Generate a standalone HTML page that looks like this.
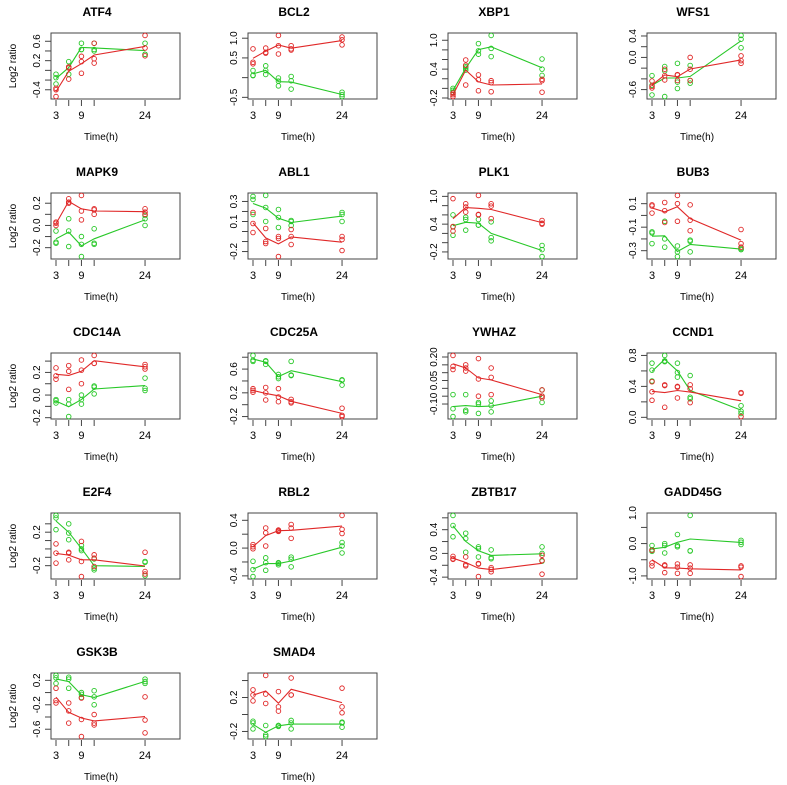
<!DOCTYPE html>
<html><head><meta charset="utf-8"><style>
html,body{margin:0;padding:0;background:#fff;}
svg{display:block;font-family:"Liberation Sans",Arial,sans-serif;}
</style></head><body>
<svg id="chart" width="787" height="785" viewBox="0 0 787 785"></svg>
<script>
const times = [3, 6, 9, 12, 24];
const genes = ["ATF4","BCL2","XBP1","WFS1","MAPK9","ABL1","PLK1","BUB3","CDC14A","CDC25A","YWHAZ","CCND1","E2F4","RBL2","ZBTB17","GADD45G","GSK3B","SMAD4"];
const redSeries = [
 [[-0.37,-0.40,-0.54],[0.07,-0.18,0.05],[0.29,0.18,-0.06],[0.56,0.24,0.15],[0.72,0.46,0.30]],
 [[0.73,0.39,0.35],[0.75,0.64,0.62],[1.07,0.81,0.60],[0.81,0.73,0.70],[1.03,0.96,0.83]],
 [[-0.10,-0.13,-0.17],[0.59,0.48,0.07],[0.28,0.18,-0.05],[0.16,0.12,-0.07],[0.19,0.16,-0.08]],
 [[-0.44,-0.54,-0.57],[-0.22,-0.34,-0.42],[-0.32,-0.33,-0.43],[0.00,-0.22,-0.43],[0.03,-0.06,-0.11]],
 [[0.03,0.02,0.00],[0.24,0.21,0.20],[0.27,0.13,0.05],[0.15,0.14,0.10],[0.15,0.12,0.10]],
 [[0.19,0.08,-0.01],[0.03,-0.10,-0.12],[-0.05,-0.07,-0.25],[0.02,-0.05,-0.13],[-0.05,-0.08,-0.19]],
 [[0.95,0.35,0.25],[0.84,0.77,0.66],[1.02,0.61,0.60],[0.84,0.79,0.52],[0.48,0.42,0.40]],
 [[0.09,0.08,0.02],[0.11,0.04,-0.06],[0.17,0.10,-0.05],[0.09,-0.04,-0.13],[-0.12,-0.24,-0.27]],
 [[0.24,0.17,0.14],[0.26,0.21,0.05],[0.31,0.22,0.10],[0.35,0.28,0.28],[0.27,0.25,0.23]],
 [[0.27,0.24,0.21],[0.29,0.20,0.08],[0.27,0.13,0.05],[0.09,0.05,0.03],[-0.06,-0.18,-0.20]],
 [[0.21,0.14,0.12],[0.15,0.13,0.11],[0.19,0.06,-0.05],[0.13,0.07,-0.04],[-0.01,-0.05,-0.06]],
 [[0.46,0.33,0.22],[0.42,0.41,0.13],[0.40,0.39,0.25],[0.42,0.37,0.19],[0.32,0.31,0.01]],
 [[0.06,-0.05,-0.17],[-0.04,-0.05,-0.13],[0.09,-0.15,-0.33],[-0.07,-0.11,-0.21],[-0.04,-0.27,-0.30]],
 [[0.05,0.02,-0.01],[0.29,0.22,0.03],[0.26,0.25,0.24],[0.34,0.29,0.14],[0.47,0.27,0.21]],
 [[-0.05,-0.09,-0.10],[-0.06,-0.19,-0.21],[-0.17,-0.18,-0.39],[-0.24,-0.27,-0.31],[-0.03,-0.12,-0.35]],
 [[-0.21,-0.60,-0.69],[-0.66,-0.69,-0.90],[-0.63,-0.73,-0.92],[-0.66,-0.76,-0.92],[-0.69,-0.73,-1.02]],
 [[0.07,-0.13,-0.17],[-0.17,-0.30,-0.50],[-0.09,-0.44,-0.72],[-0.36,-0.50,-0.53],[-0.07,-0.45,-0.66]],
 [[0.29,0.23,0.16],[0.46,0.24,0.13],[0.27,0.09,0.04],[0.43,0.23,0.23],[0.31,0.09,0.02]]
];
const greenSeries = [
 [[-0.08,-0.15,-0.28],[0.18,0.07,-0.08],[0.56,0.43,0.43],[0.56,0.43,0.40],[0.56,0.33,0.33]],
 [[0.18,0.05,0.06],[0.30,0.18,0.08],[-0.01,-0.09,-0.21],[0.03,-0.08,-0.29],[-0.37,-0.43,-0.48]],
 [[0.00,-0.04,-0.08],[0.45,0.42,0.38],[0.93,0.78,0.71],[1.10,0.83,0.66],[0.61,0.40,0.27]],
 [[-0.34,-0.52,-0.70],[-0.17,-0.25,-0.73],[-0.11,-0.46,-0.58],[-0.15,-0.43,-0.48],[0.41,0.34,0.18]],
 [[-0.05,-0.15,-0.16],[0.06,-0.05,-0.19],[-0.10,-0.17,-0.28],[-0.03,-0.16,-0.17],[0.09,0.06,0.00]],
 [[0.35,0.32,0.17],[0.36,0.24,0.10],[0.22,0.14,0.04],[0.11,0.10,0.06],[0.19,0.17,0.10]],
 [[0.60,0.34,0.16],[0.55,0.50,0.27],[0.50,0.38,0.38],[0.45,0.11,0.04],[-0.06,-0.15,-0.30]],
 [[-0.14,-0.15,-0.24],[-0.05,-0.20,-0.27],[-0.26,-0.31,-0.35],[-0.21,-0.22,-0.31],[-0.28,-0.29,-0.29]],
 [[-0.04,-0.05,-0.07],[-0.04,-0.08,-0.19],[0.00,-0.04,-0.08],[0.08,0.07,0.01],[0.15,0.06,0.04]],
 [[0.83,0.75,0.73],[0.74,0.73,0.68],[0.51,0.47,0.44],[0.73,0.50,0.49],[0.42,0.41,0.33]],
 [[-0.04,-0.13,-0.18],[-0.04,-0.14,-0.15],[-0.09,-0.10,-0.16],[-0.08,-0.11,-0.15],[-0.01,-0.05,-0.09]],
 [[0.70,0.61,0.47],[0.80,0.73,0.72],[0.70,0.58,0.52],[0.54,0.26,0.24],[0.15,0.08,0.05]],
 [[0.40,0.37,0.23],[0.30,0.19,0.11],[0.04,0.00,-0.02],[-0.12,-0.23,-0.25],[-0.15,-0.16,-0.32]],
 [[-0.19,-0.31,-0.41],[-0.14,-0.21,-0.32],[-0.21,-0.22,-0.24],[-0.13,-0.16,-0.27],[0.08,0.03,-0.07]],
 [[0.64,0.47,0.28],[0.34,0.25,0.02],[0.11,0.08,-0.06],[0.06,-0.07,-0.09],[0.11,0.00,-0.13]],
 [[-0.06,-0.19,-0.24],[0.00,-0.06,-0.29],[0.28,-0.06,-0.10],[0.87,-0.22,-0.23],[0.10,0.04,-0.03]],
 [[0.28,0.24,0.15],[0.25,0.22,0.07],[0.00,-0.03,-0.08],[0.03,-0.07,-0.20],[0.22,0.18,0.15]],
 [[-0.08,-0.10,-0.17],[-0.13,-0.24,-0.26],[-0.13,-0.13,-0.14],[-0.07,-0.10,-0.17],[-0.09,-0.10,-0.15]]
];
const yTicks = [
 [-0.4,-0.2,0,0.2,0.4,0.6],[-0.5,0,0.5,1.0],[-0.2,0,0.2,0.4,0.6,0.8,1.0],[-0.6,-0.4,-0.2,0,0.2,0.4],
 [-0.2,-0.1,0,0.1,0.2],[-0.2,-0.1,0,0.1,0.2,0.3],[-0.2,0,0.2,0.4,0.6,0.8,1.0],[-0.3,-0.2,-0.1,0,0.1],
 [-0.2,-0.1,0,0.1,0.2,0.3],[-0.2,0,0.2,0.4,0.6,0.8],[-0.10,-0.05,0,0.05,0.10,0.15,0.20],[0,0.2,0.4,0.6,0.8],
 [-0.2,-0.1,0,0.1,0.2,0.3],[-0.4,-0.2,0,0.2,0.4],[-0.4,-0.2,0,0.2,0.4,0.6],[-1,-0.5,0,0.5,1],
 [-0.6,-0.4,-0.2,0,0.2],[-0.2,0,0.2,0.4]
];
const yLabels = [
 ["-0.4","0.2","0.6"],["-0.5","0.5","1.0"],["-0.2","0.4","1.0"],["-0.6","0.0","0.4"],
 ["-0.2","0.0","0.2"],["-0.2","0.1","0.3"],["-0.2","0.4","1.0"],["-0.3","-0.1","0.1"],
 ["-0.2","0.0","0.2"],["-0.2","0.2","0.6"],["-0.10","0.05","0.20"],["0.0","0.4","0.8"],
 ["-0.2","0.2"],["-0.4","0.0","0.4"],["-0.4","0.0","0.4"],["-1.0","0.0","1.0"],
 ["-0.6","-0.2","0.2"],["-0.2","0.2"]
];
const xLabels = ["3","9","24"];

const NS = "http://www.w3.org/2000/svg";
const svg = document.getElementById("chart");
const colLeft = [51, 248, 448, 647];
const BW = 129, BH = 66;
const RED = "#e02828", GREEN = "#28c828";
function mk(tag, attrs, parent) {
  const e = document.createElementNS(NS, tag);
  for (const k in attrs) e.setAttribute(k, attrs[k]);
  parent.appendChild(e);
  return e;
}
function mean(a){return a.reduce((s,v)=>s+v,0)/a.length;}

genes.forEach((g, i) => {
  const col = i % 4, row = Math.floor(i / 4);
  const L = colLeft[col], T = 33 + row * 160;
  const grp = mk("g", {}, svg);
  
  
  const xs = t => L + 5 + (t - 3) * 4.24;
  const all = redSeries[i].flat().concat(greenSeries[i].flat());
  let mn = Math.min(...all), mx = Math.max(...all);
  const pad = (mx - mn) * 0.04; mn -= pad; mx += pad;
  const ys = v => T + BH - (v - mn) / (mx - mn) * BH;

  const title = mk("text", {x: L + 46, y: T - 17, "text-anchor": "middle", "font-size": "12", "font-weight": "bold", fill: "#000"}, grp);
  title.textContent = g;
  
  

  const box = mk("rect", {x: L, y: T, width: BW, height: BH, fill: "none", stroke: "#444", "stroke-width": "1"}, grp);
  
  

  const xa = mk("g", {}, grp);
  
  
  times.forEach(t => mk("line", {x1: xs(t), x2: xs(t), y1: T + BH + 1, y2: T + BH + 7, stroke: "#444"}, xa));
  xLabels.forEach(lb => {
    const tx = mk("text", {x: xs(+lb), y: T + BH + 20, "text-anchor": "middle", "font-size": "11", fill: "#000"}, xa);
    tx.textContent = lb;
  });
  const xt = mk("text", {x: L + 50, y: T + BH + 41, "text-anchor": "middle", "font-size": "10", fill: "#000"}, grp);
  xt.textContent = "Time(h)";
  
  

  const ya = mk("g", {}, grp);
  
  
  const tks = yTicks[i].filter(v => v >= mn - 1e-9 && v <= mx + 1e-9);
  tks.forEach(v => mk("line", {x1: L - 6, x2: L, y1: ys(v), y2: ys(v), stroke: "#444"}, ya));
  yLabels[i].forEach(lb => {
    const v = parseFloat(lb);
    if (v < mn - 0.02 * (mx - mn) || v > mx + 0.1 * (mx - mn)) return;
    const yy = Math.min(T + BH, Math.max(T, ys(v)));
    const tx = mk("text", {x: L - 11, y: yy, "text-anchor": "middle", "font-size": "10", fill: "#000", transform: `rotate(-90 ${L - 11} ${yy})`}, ya);
    tx.textContent = lb;
  });
  if (col === 0) {
    const cx = 16, cy = T + 33;
    const yt = mk("text", {x: cx, y: cy, "text-anchor": "middle", "font-size": "10", fill: "#000", transform: `rotate(-90 ${cx} ${cy})`}, grp);
    yt.textContent = "Log2 ratio";
    
    
  }

  [[greenSeries[i], GREEN, "green"], [redSeries[i], RED, "red"]].forEach(([ser, colr, nm]) => {
    const sg = mk("g", {}, grp);
    
    
    const pts = ser.map((reps, k) => xs(times[k]).toFixed(1) + "," + ys(mean(reps)).toFixed(1)).join(" ");
    const ln = mk("polyline", {points: pts, fill: "none", stroke: colr, "stroke-width": "1.1"}, sg);
    
    
    ser.forEach((reps, k) => reps.forEach(v => {
      const c = mk("circle", {cx: xs(times[k]), cy: ys(v), r: 2.3, fill: "none", stroke: colr, "stroke-width": "0.9"}, sg);
      
      
    }));
  });
});
</script>
</body></html>
